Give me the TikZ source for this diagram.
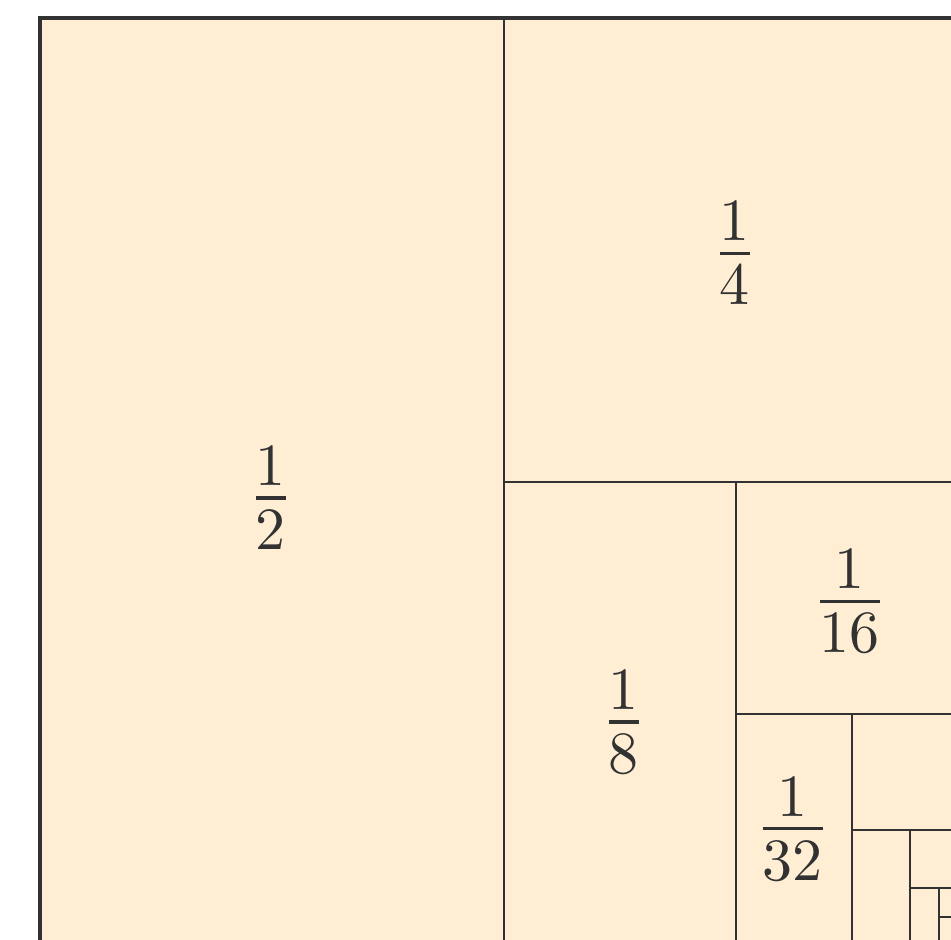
\documentclass[tikz,border=0pt]{standalone}
\usepackage{amsmath,amssymb}
\usepackage{xcolor}
\definecolor{papaya}{RGB}{255,238,212}
\definecolor{edgegray}{RGB}{50,50,50}
\usepackage{tikz}
\usetikzlibrary{calc}
\tikzset{
  tile/.style={draw=edgegray, line width=0.45pt},
  frame/.style={draw=edgegray, fill=papaya, line width=0.6pt},
  fraclabel/.style={font=\Large, text=edgegray, inner sep=0pt},
}

\begin{document}
\begin{tikzpicture}[x=0.68cm, y=0.68cm]
  \useasboundingbox (-0.345,0.06) rectangle (7.853,8.155);
  \clip (-0.345,0.06) rectangle (7.853,8.155);

  % unit square
  \draw[frame] (0,0) rectangle (8,8);

  % halving the remaining piece again and again
  \foreach \s in {4,2,1,0.5,0.25,0.125,0.0625,0.03125,0.015625}
    \draw[tile] (8-\s,2*\s) -- (8-\s,0) (8-\s,\s) -- (8,\s);

  % labels
  \node[fraclabel] (half) at (1.99, 3.86) {$\frac{1}{2}$};
  \node[fraclabel] (quarter) at (5.99, 5.97) {$\frac{1}{4}$};
  \node[fraclabel] (eighth) at (5.03, 1.93) {$\frac{1}{8}$};
  \node[fraclabel] (sixteenth) at (6.98, 2.97) {$\frac{1}{16}$};
  \node[fraclabel] (thirtysecond) at (6.49, 1.01) {$\frac{1}{32}$};
\end{tikzpicture}
\end{document}
